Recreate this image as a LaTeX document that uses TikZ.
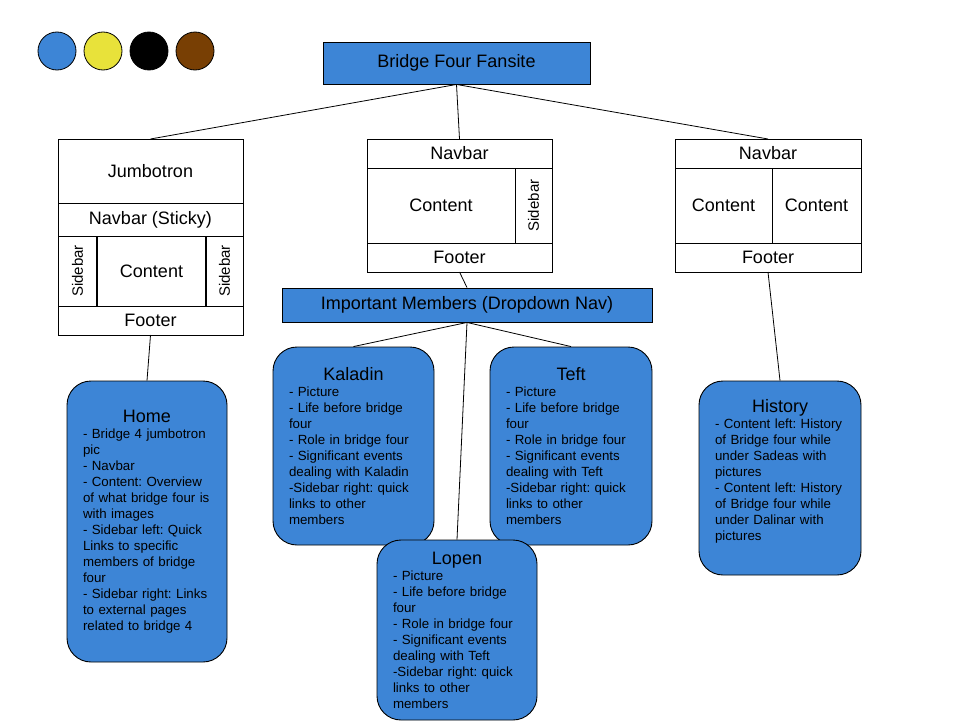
\documentclass[tikz,border=0pt]{standalone}
\usepackage{fontspec}
\setmainfont{Liberation Sans}
\usetikzlibrary{positioning}
\definecolor{gblue}{RGB}{61,133,214}
\definecolor{gyellow}{RGB}{232,226,58}
\definecolor{gbrown}{RGB}{120,63,4}
\frenchspacing

\begin{document}
\begin{tikzpicture}[x=1pt, y=-1pt,
    cell/.style={draw, line width=0.9pt, outer sep=0pt, inner sep=0pt, font=\fontsize{18}{20}\selectfont},
    bar/.style={draw, fill=gblue, line width=0.9pt, inner sep=0pt, font=\fontsize{18}{20}\selectfont},
    page/.style={draw, fill=gblue, rounded corners=24pt, line width=0.9pt, inner xsep=16pt, inner ysep=0pt,
                 align=left, text width=#1, font=\fontsize{13.3}{16}\selectfont},
    link/.style={line width=0.8pt},
    dot/.style={circle, draw, line width=0.8pt, minimum size=38pt, inner sep=0pt}]
    \useasboundingbox (0,0) rectangle (960,720);

    % Palette
    \node[dot, fill=gblue] (cblue) at (57,51) {};
    \node[dot, fill=gyellow] (cyellow) at (103,51) {};
    \node[dot, fill=black] (cblack) at (149,51) {};
    \node[dot, fill=gbrown] (cbrown) at (195,51) {};

    % Root
    \node[bar, minimum width=267pt, minimum height=42pt] (site) at (456.5,63) {Bridge Four Fansite};

    % Home layout
    \node[cell, minimum width=185pt, minimum height=64pt, anchor=north west] (ljumbo) at (58,139) {Jumbotron};
    \node[cell, minimum width=185pt, minimum height=33pt, below=0pt of ljumbo] (lnav) {Navbar (Sticky)};
    \node[cell, minimum width=39pt, minimum height=70pt, anchor=north west] (lsideA) at (lnav.south west) {\rotatebox{90}{\fontsize{15}{15}\selectfont Sidebar}};
    \node[cell, minimum width=109pt, minimum height=70pt, right=0pt of lsideA] (lcontent) {Content};
    \node[cell, minimum width=37pt, minimum height=70pt, right=0pt of lcontent] (lsideB) {\rotatebox{90}{\fontsize{15}{15}\selectfont Sidebar}};
    \node[cell, minimum width=185pt, minimum height=29pt, anchor=north west] (lfoot) at (lsideA.south west) {Footer};
    \draw[line width=2pt] (lcontent.north west) -- (lcontent.south west);
    \draw[line width=2pt] (lcontent.north east) -- (lcontent.south east);

    % Members layout
    \node[cell, minimum width=185pt, minimum height=29pt, anchor=north west] (mnav) at (367,139) {Navbar};
    \node[cell, minimum width=148pt, minimum height=75pt, anchor=north west] (mcontent) at (mnav.south west) {Content};
    \node[cell, minimum width=37pt, minimum height=75pt, right=0pt of mcontent] (mside) {\rotatebox{90}{\fontsize{15}{15}\selectfont Sidebar}};
    \node[cell, minimum width=185pt, minimum height=29pt, anchor=north west] (mfoot) at (mcontent.south west) {Footer};

    % History layout
    \node[cell, minimum width=186pt, minimum height=29pt, anchor=north west] (rnav) at (675,139) {Navbar};
    \node[cell, minimum width=97pt, minimum height=75pt, anchor=north west] (rcontA) at (rnav.south west) {Content};
    \node[cell, minimum width=89pt, minimum height=75pt, right=0pt of rcontA] (rcontB) {Content};
    \node[cell, minimum width=186pt, minimum height=29pt, anchor=north west] (rfoot) at (rcontA.south west) {Footer};

    % Dropdown
    \node[bar, minimum width=370pt, minimum height=34pt] (drop) at (467,305) {Important Members (Dropdown Nav)};

    % Pages
    \node[page=128pt, minimum height=281pt] (home) at (147,521.5) {\hfill{\fontsize{18}{16}\selectfont Home}\hfill\mbox{}\\
        - Bridge 4 jumbotron\\ pic\\ - Navbar\\ - Content: Overview\\ of what bridge four is\\ with images\\
        - Sidebar left: Quick\\ Links to specific\\ members of bridge\\ four\\
        - Sidebar right: Links\\ to external pages\\ related to bridge 4};
    \node[page=129pt, minimum height=198pt] (kaladin) at (353.5,446) {\hfill{\fontsize{18}{16}\selectfont Kaladin}\hfill\mbox{}\\
        - Picture\\ - Life before bridge\\ four\\ - Role in bridge four\\ - Significant events\\ dealing with Kaladin\\
        -Sidebar right: quick\\ links to other\\ members};
    \node[page=130pt, minimum height=198pt] (teft) at (571,446) {\hfill{\fontsize{18}{16}\selectfont Teft}\hfill\mbox{}\\
        - Picture\\ - Life before bridge\\ four\\ - Role in bridge four\\ - Significant events\\ dealing with Teft\\
        -Sidebar right: quick\\ links to other\\ members};
    \node[page=128pt, minimum height=180pt] (lopen) at (457,630) {\hfill{\fontsize{18}{16}\selectfont Lopen}\hfill\mbox{}\\
        - Picture\\ - Life before bridge\\ four\\ - Role in bridge four\\ - Significant events\\ dealing with Teft\\
        -Sidebar right: quick\\ links to other\\ members};
    \node[page=130pt, minimum height=194pt] (history) at (780,478) {\hfill{\fontsize{18}{16}\selectfont History}\hfill\mbox{}\\
        - Content left: History\\ of Bridge four while\\ under Sadeas with\\ pictures\\
        - Content left: History\\ of Bridge four while\\ under Dalinar with\\ pictures\\ \mbox{}};

    % Links
    \draw[link] (site.south) -- (ljumbo.north);
    \draw[link] (site.south) -- (mnav.north);
    \draw[link] (site.south) -- (rnav.north);
    \draw[link] (lfoot.south) -- (home.north);
    \draw[link] (mfoot.south) -- (drop.north);
    \draw[link] (rfoot.south) -- (history.north);
    \draw[link] (drop.south) -- (kaladin.north);
    \draw[link] (drop.south) -- (teft.north);
    \draw[link] (drop.south) -- (lopen.north);

\end{tikzpicture}
\end{document}
